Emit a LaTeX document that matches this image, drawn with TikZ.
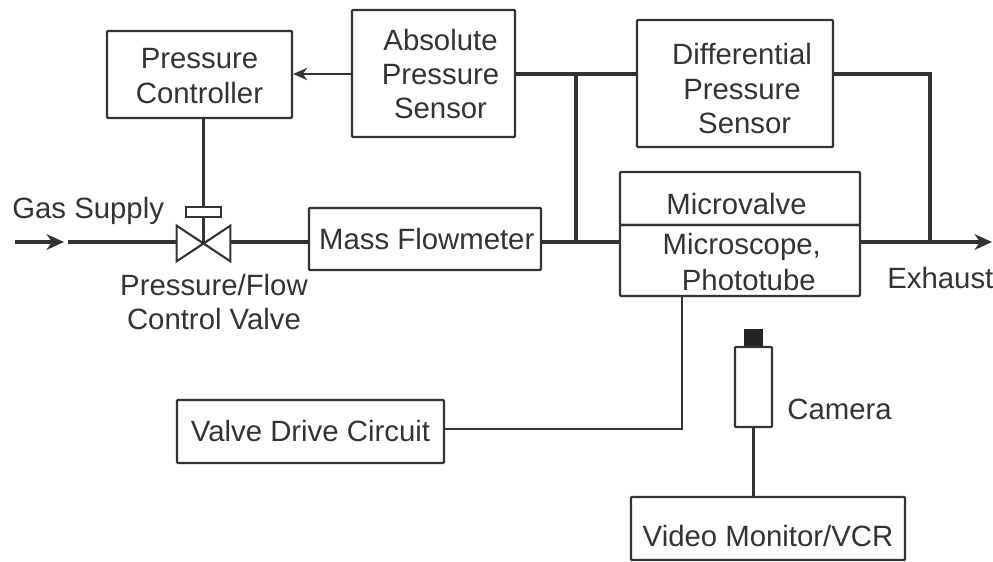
\documentclass[tikz,border=0pt]{standalone}
\usepackage{fontspec}
\setmainfont{Liberation Sans}
\usetikzlibrary{arrows.meta, positioning, calc}
\definecolor{ink}{gray}{0.2}
\newcommand{\dropby}[2]{\raisebox{-#1}[\height][\depth]{#2}}
\tikzset{
  blockbox/.style={rectangle, draw=ink, line width=1.3pt, rounded corners=0.5pt,
    inner sep=0pt, text=ink, align=center,
    font=\fontsize{16.7}{19.7}\selectfont},
  plaintext/.style={inner sep=0pt, text=ink, align=center,
    font=\fontsize{16.7}{19.7}\selectfont},
  gasline/.style={draw=ink, line width=2.5pt},
  gasarr/.style={gasline, -{Stealth[length=10pt, width=9pt]}},
  sigline/.style={draw=ink, line width=1.2pt},
  sigarr/.style={sigline, -{Stealth[length=8pt, width=7pt]}},
}
\begin{document}
\begin{tikzpicture}[x=0.02cm, y=-0.02cm]
\useasboundingbox (0,0) rectangle (993,561);

\node (ctrl) [blockbox, minimum width=3.7cm, minimum height=1.74cm] at (199.5,74.5)
  {\dropby{0.8pt}{Pressure}\\\dropby{1pt}{Controller}};
\node (absp) [blockbox, minimum width=3.26cm, minimum height=2.54cm] at (433.5,73.5)
  {\hspace*{8pt}\dropby{0.5pt}{Absolute}\\\hspace*{8pt}\dropby{0.5pt}{Pressure}\\\hspace*{8pt}Sensor};
\node (diffp) [blockbox, minimum width=3.92cm, minimum height=2.54cm] at (735,83.5)
  {\hspace*{8pt}\dropby{3pt}{Differential}\\\hspace*{8pt}\dropby{3pt}{Pressure}\\\hspace*{11pt}\dropby{3pt}{Sensor}};
\node (mvalve) [blockbox, minimum width=4.8cm, minimum height=1.06cm] at (740,198.5)
  {\hspace*{-4pt}\dropby{3.4pt}{Microvalve}};
\node (mscope) [blockbox, minimum width=4.8cm, minimum height=1.42cm, below=-1.3pt of mvalve]
  {\hspace*{2pt}\dropby{0.5pt}{Microscope,}\\\hspace*{10pt}\dropby{1pt}{Phototube}};
\node (flow) [blockbox, minimum width=4.64cm, minimum height=1.24cm] at (425,239)
  {\hspace*{2pt}Mass Flowmeter};
\node (drive) [blockbox, minimum width=5.34cm, minimum height=1.26cm] at (310.5,431.5)
  {Valve Drive Circuit};
\node (video) [blockbox, minimum width=5.48cm, minimum height=1.26cm] at (768,528.5)
  {\dropby{4.5pt}{Video Monitor/VCR}};

% valve and its actuator
\node (valve) [minimum width=1.06cm, minimum height=0.7cm, inner sep=0pt] at (203.5,243.5) {};
\draw[sigline] (valve.north west) -- (valve.south east) -- (valve.north east)
  -- (valve.south west) -- cycle;
\node (act) [rectangle, draw=ink, line width=1.2pt, minimum width=0.7cm, minimum height=0.2cm,
  inner sep=0pt] at (203.5,212) {};

% camera
\node (cam) [rectangle, draw=ink, line width=1.2pt, rounded corners=0.5pt,
  minimum width=0.74cm, minimum height=1.6cm, inner sep=0pt] at (753.5,387) {};
\node (lens) [rectangle, fill=ink!70!black, minimum width=0.38cm, minimum height=0.34cm,
  inner sep=0pt, above=0pt of cam] {};

% labels
\node (gaslab) [plaintext, anchor=west] at (12,211) {Gas Supply};
\node (valvelab) [plaintext] at (214,302) {Pressure/Flow\\Control Valve};
\node (exhlab) [plaintext, anchor=west] at (887,278) {Exhaust};
\node (camlab) [plaintext, anchor=west] at (787,409) {Camera};

% free ends and junctions
\coordinate (gasin) at (15,242);
\coordinate (gastip) at (64,242);
\coordinate (gastail) at (68,242);
\coordinate (exhaust) at (992,242);
\coordinate (topjoin) at (576,74);
\coordinate (topright) at (930,74);
\coordinate (lowjoin) at (576,242);
\coordinate (lowright) at (930,242);
\coordinate (drivecorner) at (682,429);

\draw[gasarr] (gasin) -- (gastip);
\draw[gasline] (gastail) -- (valve.west |- gastail);
\draw[gasline] (valve.east |- gastail) -- (flow.west |- gastail);
\draw[gasline] (flow.east |- gastail) -- (mscope.west |- gastail);
\draw[gasarr] (mscope.east |- exhaust) -- (exhaust);
\draw[gasline] (absp.east |- topjoin) -- (diffp.west |- topjoin);
\draw[gasline] (diffp.east |- topjoin) -- (topright) -- (lowright);
\draw[gasline] (topjoin) -- (lowjoin);

\draw[sigarr] (absp.west |- topjoin) -- (ctrl.east |- topjoin);
\draw[sigline] (ctrl.south -| act) -- (act.north);
\draw[sigline] (act.south) -- (valve.center);
\draw[sigline] (drive.east |- drivecorner) -- (drivecorner) -- (drivecorner |- mscope.south);
\draw[sigline] (cam.south) -- (video.north -| cam);

\end{tikzpicture}
\end{document}
